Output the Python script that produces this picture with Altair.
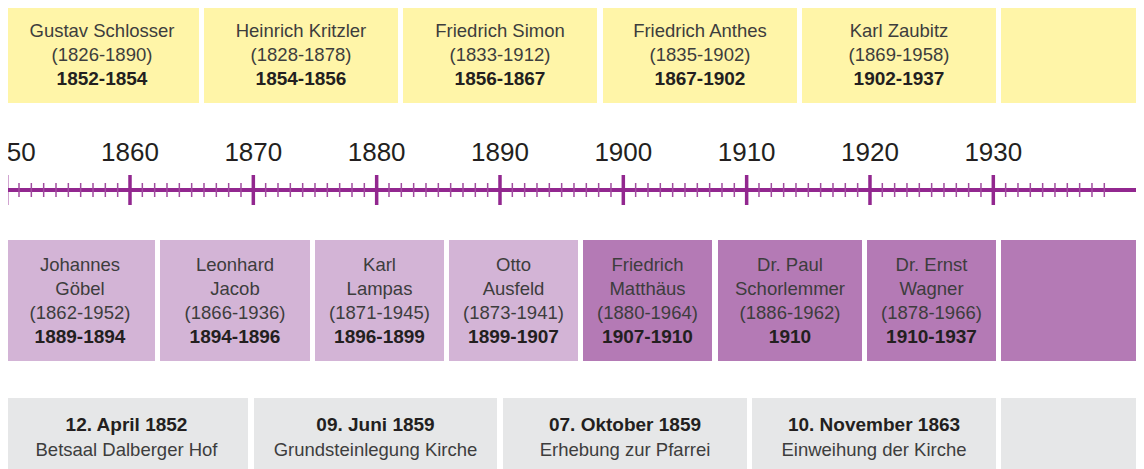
import altair as alt
import pandas as pd

# ---------------- data ----------------
pastor_names = ["Gustav Schlosser", "Heinrich Kritzler", "Friedrich Simon",
                "Friedrich Anthes", "Karl Zaubitz", ""]
pastor_lives = ["(1826-1890)", "(1828-1878)", "(1833-1912)", "(1835-1902)",
                "(1869-1958)", ""]
pastor_terms = ["1852-1854", "1854-1856", "1856-1867", "1867-1902",
                "1902-1937", ""]

vicar_first = ["Johannes", "Leonhard", "Karl", "Otto", "Friedrich",
               "Dr. Paul", "Dr. Ernst", ""]
vicar_last = ["Göbel", "Jacob", "Lampas", "Ausfeld", "Matthäus",
              "Schorlemmer", "Wagner", ""]
vicar_lives = ["(1862-1952)", "(1866-1936)", "(1871-1945)", "(1873-1941)",
               "(1880-1964)", "(1886-1962)", "(1878-1966)", ""]
vicar_terms = ["1889-1894", "1894-1896", "1896-1899", "1899-1907",
               "1907-1910", "1910", "1910-1937", ""]
vicar_group = ["early", "early", "early", "early", "late", "late", "late", "late"]

event_dates = ["12. April 1852", "09. Juni 1859", "07. Oktober 1859",
               "10. November 1863", ""]
event_texts = ["Betsaal Dalberger Hof", "Grundsteinlegung Kirche",
               "Erhebung zur Pfarrei", "Einweihung der Kirche", ""]

decade_labels = ["1850", "1860", "1870", "1880", "1890", "1900", "1910",
                 "1920", "1930"]
first_year, last_tick_year = 1850, 1939

# ---------------- layout (reference pixels) ----------------
OFFSET = 8                  # page margin
W, H = 1128, 461
X1850, PX_PER_YEAR = 6.67, 12.333

top_edges = [(5, 199), (204, 398), (403, 597), (603, 797), (802, 996), (1001, 1150)]
mid_edges = [(5, 155), (160, 310), (315, 444), (449, 578), (583, 712),
             (718, 862), (867, 996), (1001, 1150)]
bot_edges = [(5, 248), (254, 497), (503, 747), (752, 996), (1001, 1150)]
top_y, mid_y, bot_y = (5, 103), (240, 361), (398, 472)

YELLOW, LILAC, PURPLE, GREY = "#FFF5A8", "#D3B4D6", "#B47AB5", "#E6E7E8"
AXIS = "#92278F"
TXT, TXT_B = "#3d3d3d", "#231F20"
FONT = "Liberation Sans"

def px_to_year(p):
    return 1850 + (p - X1850) / PX_PER_YEAR

# ---------------- tables ----------------
rects, texts = [], []
for (l, r), nm, lv, tm in zip(top_edges, pastor_names, pastor_lives, pastor_terms):
    rects.append(dict(x=l, x2=r, y=top_y[0], y2=top_y[1], fill=YELLOW))
    cx = (l + r) / 2
    texts += [dict(cx=cx, y=31, t=nm, w="n"), dict(cx=cx, y=55, t=lv, w="n"),
              dict(cx=cx, y=79, t=tm, w="b")]
for (l, r), f, la, lv, tm, g in zip(mid_edges, vicar_first, vicar_last,
                                    vicar_lives, vicar_terms, vicar_group):
    rects.append(dict(x=l, x2=r, y=mid_y[0], y2=mid_y[1],
                      fill=LILAC if g == "early" else PURPLE))
    cx = (l + r) / 2
    texts += [dict(cx=cx, y=265, t=f, w="n"), dict(cx=cx, y=289, t=la, w="n"),
              dict(cx=cx, y=313, t=lv, w="n"), dict(cx=cx, y=337, t=tm, w="b")]
for (l, r), d, e in zip(bot_edges, event_dates, event_texts):
    rects.append(dict(x=l, x2=r, y=bot_y[0], y2=bot_y[1], fill=GREY))
    cx = (l + r) / 2
    texts += [dict(cx=cx, y=425, t=d, w="b"), dict(cx=cx, y=450, t=e, w="n")]

rect_df = pd.DataFrame(rects)
text_df = pd.DataFrame(texts)
ticks_df = pd.DataFrame({"year": list(range(first_year, last_tick_year + 1))})
ticks_df["major"] = ticks_df["year"] % 10 == 0
labels_df = pd.DataFrame({"label": decade_labels,
                          "year": [int(s) for s in decade_labels]})

xs = alt.Scale(domain=[OFFSET, OFFSET + W])
ys = alt.Scale(domain=[OFFSET, OFFSET + H], reverse=True)
yrs = alt.Scale(domain=[px_to_year(OFFSET), px_to_year(OFFSET + W)])

boxes = alt.Chart(rect_df).mark_rect().encode(
    x=alt.X("x:Q", scale=xs, axis=None), x2="x2:Q",
    y=alt.Y("y:Q", scale=ys, axis=None), y2="y2:Q",
    color=alt.Color("fill:N", scale=None),
)

normal_txt = alt.Chart(text_df).transform_filter(alt.datum.w == "n").mark_text(
    font=FONT, fontSize=18.5, color=TXT, align="center", baseline="middle"
).encode(x=alt.X("cx:Q", scale=xs, axis=None),
         y=alt.Y("y:Q", scale=ys, axis=None), text="t:N")

bold_txt = alt.Chart(text_df).transform_filter(alt.datum.w == "b").mark_text(
    font=FONT, fontSize=19, fontWeight="bold", color=TXT_B, align="center",
    baseline="middle"
).encode(x=alt.X("cx:Q", scale=xs, axis=None),
         y=alt.Y("y:Q", scale=ys, axis=None), text="t:N")

axis_line = alt.Chart(rect_df.head(1)).mark_rule(color=AXIS, strokeWidth=4).encode(
    x=alt.X(datum=OFFSET, scale=xs, axis=None), x2=alt.datum(OFFSET + W),
    y=alt.Y(datum=190, scale=ys, axis=None),
)

minor = alt.Chart(ticks_df).transform_filter(~alt.datum.major).mark_rule(
    color="#A04B9E", strokeWidth=1.5
).encode(x=alt.X("year:Q", scale=yrs, axis=None),
         y=alt.Y(datum=183, scale=ys, axis=None), y2=alt.datum(197))

major = alt.Chart(ticks_df).transform_filter(alt.datum.major).mark_rule(
    color=AXIS, strokeWidth=3.5
).encode(x=alt.X("year:Q", scale=yrs, axis=None),
         y=alt.Y(datum=175, scale=ys, axis=None), y2=alt.datum(205))

year_lbl = alt.Chart(labels_df).mark_text(
    font=FONT, fontSize=26, color=TXT_B, align="center", baseline="middle"
).encode(x=alt.X("year:Q", scale=yrs, axis=None),
         y=alt.Y(datum=153, scale=ys, axis=None), text="label:N")

chart = alt.layer(boxes, normal_txt, bold_txt, axis_line, minor, major,
                  year_lbl).resolve_scale(x="independent").properties(
    width=W, height=H, autosize=alt.AutoSizeParams(type="none"), padding=0
).configure_view(stroke=None)

chart.save("out.html", embed_options={"renderer": "svg", "actions": False})
